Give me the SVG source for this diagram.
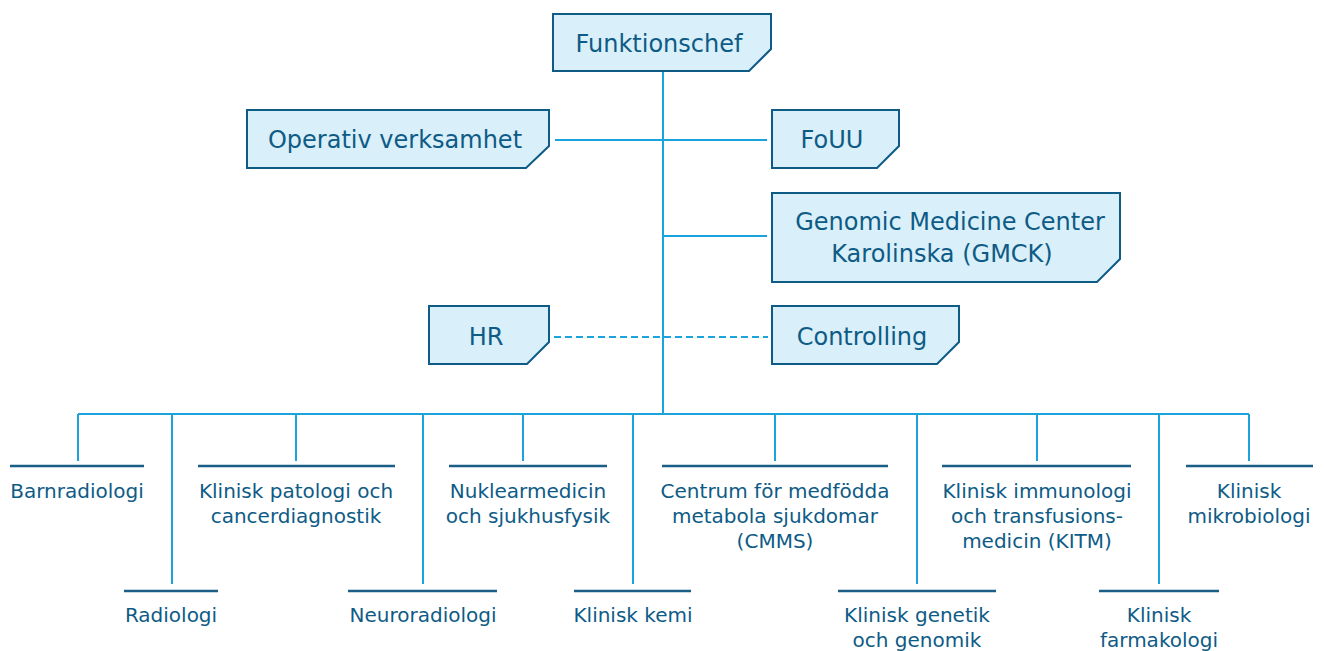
<svg xmlns="http://www.w3.org/2000/svg" width="1324" height="651" viewBox="0 0 1324 651">
<style>
.box{fill:#d9eff9;stroke:#0e5b86;stroke-width:2}
.bt{font-family:"DejaVu Sans","Noto Sans",sans-serif;font-size:24px;fill:#0e5b86;text-anchor:middle}
.lt{font-family:"DejaVu Sans","Noto Sans",sans-serif;font-size:20px;fill:#0e5b86;text-anchor:middle}
.con{stroke:#1ba3de;stroke-width:2;fill:none}
.dash{stroke:#1ba3de;stroke-width:2;fill:none;stroke-dasharray:7 4}
.rule{stroke:#1a5e88;stroke-width:2.5;fill:none}
</style>
<rect width="1324" height="651" fill="#ffffff"/>
<g id="connectors">
<line class="con" x1="663" y1="71" x2="663" y2="414"/>
<line class="con" x1="555" y1="140" x2="767" y2="140"/>
<line class="con" x1="663" y1="236" x2="767" y2="236"/>
<line class="dash" x1="554" y1="337" x2="768" y2="337"/>
<line class="con" x1="78" y1="414" x2="1249" y2="414"/>
<line class="con" x1="78" y1="414" x2="78" y2="461"/>
<line class="con" x1="172" y1="414" x2="172" y2="584"/>
<line class="con" x1="296" y1="414" x2="296" y2="461"/>
<line class="con" x1="423" y1="414" x2="423" y2="584"/>
<line class="con" x1="523" y1="414" x2="523" y2="461"/>
<line class="con" x1="633" y1="414" x2="633" y2="584"/>
<line class="con" x1="775" y1="414" x2="775" y2="461"/>
<line class="con" x1="917" y1="414" x2="917" y2="584"/>
<line class="con" x1="1037" y1="414" x2="1037" y2="461"/>
<line class="con" x1="1159" y1="414" x2="1159" y2="584"/>
<line class="con" x1="1249" y1="414" x2="1249" y2="461"/>
</g>
<g id="funktionschef">
<path class="box" d="M553 14H771V49L749 71H553Z"/>
<text class="bt" x="659" y="52">Funktionschef</text>
</g>
<g id="operativ">
<path class="box" d="M247 110H549V146L526 168H247Z"/>
<text class="bt" x="395" y="148">Operativ verksamhet</text>
</g>
<g id="fouu">
<path class="box" d="M772 110H899V146L877 168H772Z"/>
<text class="bt" x="832" y="148">FoUU</text>
</g>
<g id="gmck">
<path class="box" d="M772 193H1120V259L1097 282H772Z"/>
<text class="bt" y="230"><tspan x="950">Genomic Medicine Center</tspan><tspan x="942" dy="32">Karolinska (GMCK)</tspan></text>
</g>
<g id="hr">
<path class="box" d="M429 306H549V342L527 364H429Z"/>
<text class="bt" x="486" y="345">HR</text>
</g>
<g id="controlling">
<path class="box" d="M772 306H959V342L937 364H772Z"/>
<text class="bt" x="862" y="345">Controlling</text>
</g>
<g id="barnradiologi">
<line class="rule" x1="10" y1="466" x2="144" y2="466"/>
<text class="lt" x="77" y="498">Barnradiologi</text>
</g>
<g id="radiologi">
<line class="rule" x1="124" y1="591" x2="218" y2="591"/>
<text class="lt" x="171" y="622">Radiologi</text>
</g>
<g id="patologi">
<line class="rule" x1="198" y1="466" x2="395" y2="466"/>
<text class="lt" y="498"><tspan x="296">Klinisk patologi och</tspan><tspan x="296" dy="25">cancerdiagnostik</tspan></text>
</g>
<g id="neuroradiologi">
<line class="rule" x1="348" y1="591" x2="497" y2="591"/>
<text class="lt" x="423" y="622">Neuroradiologi</text>
</g>
<g id="nuklearmedicin">
<line class="rule" x1="449" y1="466" x2="607" y2="466"/>
<text class="lt" y="498"><tspan x="528">Nuklearmedicin</tspan><tspan x="528" dy="25">och sjukhusfysik</tspan></text>
</g>
<g id="kemi">
<line class="rule" x1="574" y1="591" x2="691" y2="591"/>
<text class="lt" x="633" y="622">Klinisk kemi</text>
</g>
<g id="cmms">
<line class="rule" x1="662" y1="466" x2="888" y2="466"/>
<text class="lt" y="498"><tspan x="775">Centrum för medfödda</tspan><tspan x="775" dy="25">metabola sjukdomar</tspan><tspan x="775" dy="25">(CMMS)</tspan></text>
</g>
<g id="genetik">
<line class="rule" x1="838" y1="591" x2="996" y2="591"/>
<text class="lt" y="622"><tspan x="917">Klinisk genetik</tspan><tspan x="917" dy="25">och genomik</tspan></text>
</g>
<g id="kitm">
<line class="rule" x1="942" y1="466" x2="1131" y2="466"/>
<text class="lt" y="498"><tspan x="1037">Klinisk immunologi</tspan><tspan x="1037" dy="25">och transfusions-</tspan><tspan x="1037" dy="25">medicin (KITM)</tspan></text>
</g>
<g id="farmakologi">
<line class="rule" x1="1099" y1="591" x2="1219" y2="591"/>
<text class="lt" y="622"><tspan x="1159">Klinisk</tspan><tspan x="1159" dy="25">farmakologi</tspan></text>
</g>
<g id="mikrobiologi">
<line class="rule" x1="1186" y1="466" x2="1313" y2="466"/>
<text class="lt" y="498"><tspan x="1249">Klinisk</tspan><tspan x="1249" dy="25">mikrobiologi</tspan></text>
</g>
</svg>
